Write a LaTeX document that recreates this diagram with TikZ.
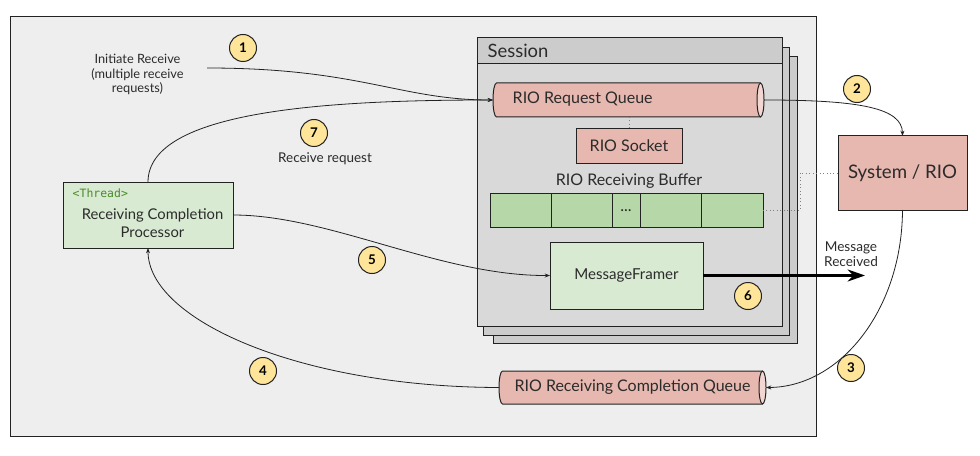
\documentclass[tikz,border=0pt]{standalone}
\usepackage{fontspec}
\setmainfont{Lato}
\newfontfamily\codefont{DejaVu Sans Mono}
\usetikzlibrary{arrows.meta}

\definecolor{panelgrey}{HTML}{EEEEEE}
\definecolor{sessiongrey}{HTML}{D9D9D9}
\definecolor{headgrey}{HTML}{CCCCCC}
\definecolor{rioPink}{HTML}{E6B8AF}
\definecolor{rioPinkEnd}{HTML}{F2D6D1}
\definecolor{paleGreen}{HTML}{D9EAD3}
\definecolor{cellGreen}{HTML}{B6D7A8}
\definecolor{badgeYellow}{HTML}{FFE599}
\definecolor{threadGreen}{HTML}{4A8A2A}
\definecolor{inkline}{HTML}{222222}
\definecolor{textgrey}{HTML}{2B2B2B}

\tikzset{
  sz/.style 2 args={minimum width=#1*0.75pt, minimum height=#2*0.75pt, inner sep=0pt, outer sep=0pt},
  boxline/.style={draw=inkline, line width=0.75pt},
  badge/.style={circle, draw=inkline, line width=0.75pt, fill=badgeYellow,
    minimum size=27*0.75pt, inner sep=0pt, font=\bfseries\fontsize{10}{11}\selectfont},
  flow/.style={draw=inkline, line width=0.6pt, -{Stealth[length=4pt,width=3pt]}},
  dotlink/.style={draw=gray, line width=0.6pt, dotted},
  lbl/.style={text=textgrey, font=\fontsize{12}{14}\selectfont},
  small/.style={text=textgrey, font=\fontsize{9.6}{10.9}\selectfont, align=center},
}

% horizontal cylinder: left x, right-end centre x, top y, bottom y
\newcommand{\hcyl}[4]{%
  \pgfmathsetmacro{\cyry}{(#4-#3)/2}%
  \pgfmathsetmacro{\cycy}{(#4+#3)/2}%
  \draw[boxline, fill=rioPink] (#2,#3) -- (#1+3.5,#3)
     arc[start angle=270, end angle=90, x radius=3.5, y radius=\cyry] -- (#2,#4);
  \draw[boxline, fill=rioPinkEnd] (#2,\cycy) ellipse [x radius=3.5, y radius=\cyry];
}

\begin{document}
\begin{tikzpicture}[x=0.75pt, y=-0.75pt]
\useasboundingbox[fill=white] (0,0) rectangle (980,456);

% outer panel
\node[sz={806}{419}, boxline, fill=panelgrey] (panel) at (413,226.5) {};

% session stack
\node[sz={304}{286}, boxline, fill=headgrey] (sessC) at (645,200) {};
\node[sz={306}{287}, boxline, fill=headgrey] (sessB) at (636,191.5) {};
\node[sz={305}{288}, boxline, fill=sessiongrey] (sess) at (629.5,182) {};
\node[sz={305}{26}, boxline, fill=headgrey, anchor=north] (sesshead) at (sess.north) {};
\node[anchor=west, text=textgrey, font=\fontsize{13.8}{15}\selectfont] (sesstitle) at (483,51) {Session};

% RIO request queue
\hcyl{493}{760.5}{83}{117}
\node[sz={271}{34}] (rq) at (628.5,100) {};
\node[lbl, anchor=west] (rqtext) at (508,99.5) {RIO Request Queue};

% RIO socket
\node[sz={106}{34}, boxline, fill=rioPink, lbl] (sock) at (629,146) {RIO Socket};
\draw[dotlink] (629,117) -- (sock.north);

% receiving buffer
\node[lbl] (buflabel) at (629,181) {RIO Receiving Buffer};
\node[sz={61}{34}, boxline, fill=cellGreen] (c1) at (520.5,210) {};
\node[sz={61}{34}, boxline, fill=cellGreen] (c2) at (581.5,210) {};
\node[sz={28}{34}, boxline, fill=cellGreen, lbl] (c3) at (626,210) {\raisebox{-0.3ex}{...}};
\node[sz={61}{34}, boxline, fill=cellGreen] (c4) at (670.5,210) {};
\node[sz={62}{34}, boxline, fill=cellGreen] (c5) at (732,210) {};

% message framer
\node[sz={153}{67}, boxline, fill=paleGreen, text=textgrey, font=\fontsize{11.3}{13}\selectfont] (framer) at (626.5,275.5) {MessageFramer};

% completion queue
\hcyl{499}{762.5}{371}{404}
\node[sz={267}{33}] (cq) at (632.5,387.5) {};
\node[lbl] (cqtext) at (632.5,387) {RIO Receiving Completion Queue};

% system / RIO
\node[sz={129}{74}, boxline, fill=rioPink, text=textgrey, font=\fontsize{14}{16}\selectfont] (sys) at (902.5,173) {System / RIO};

% receiving completion processor
\node[sz={170}{66}, boxline, fill=paleGreen] (proc) at (148,215) {};
\node[anchor=west, text=threadGreen, font=\codefont\fontsize{8.6}{10}\selectfont] (thr) at (68,193) {<Thread>};
\node[text=textgrey, align=center, font=\fontsize{11.1}{13.5}\selectfont] (proctext) at (152.5,223) {Receiving Completion\\Processor};

% free texts
\node[small] (initiate) at (137.5,74.5) {Initiate Receive\\(multiple receive\\requests)};
\node[text=textgrey, font=\fontsize{10.1}{11}\selectfont] (rrtext) at (325,159) {Receive request};
\node[text=textgrey, align=center, font=\fontsize{10.2}{11.25}\selectfont] (msgtext) at (851,254.5) {Message\\Received};
\coordinate (initEnd) at (207,68);
\coordinate (msgEnd) at (865,275.5);

% connectors
\draw[flow] (initEnd) .. controls (360,68) and (400,100) .. (rq.west);
\draw[flow] (proc.north) .. controls (148,110) and (330,100) .. (rq.west);
\draw[flow] (rq.east) .. controls (860,100) and (902,108) .. (sys.north);
\draw[flow] (sys.south) .. controls (902,310) and (840,387) .. (cq.east);
\draw[flow] (cq.west) .. controls (300,387) and (148,320) .. (proc.south);
\draw[flow] (proc.east) .. controls (330,215) and (440,276) .. (framer.west);
\draw[draw=black, line width=2.4pt, -{Stealth[length=13pt,width=9pt]}] (framer.east) -- (msgEnd);
\draw[dotlink] (c5.east) -- (800,210) -- (800,173) -- (sys.west);

% step badges
\node[badge] (b1) at (243,48) {1};
\node[badge] (b2) at (857,89) {2};
\node[badge] (b3) at (851,368) {3};
\node[badge] (b4) at (263,371) {4};
\node[badge] (b5) at (372,260) {5};
\node[badge] (b6) at (748,296) {6};
\node[badge] (b7) at (314,133) {7};
\end{tikzpicture}
\end{document}
